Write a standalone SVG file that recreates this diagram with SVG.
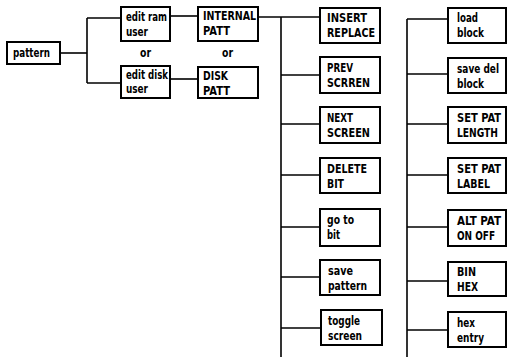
<svg xmlns="http://www.w3.org/2000/svg" width="508" height="357" viewBox="0 0 508 357">
<style>
.b{fill:#fff;stroke:#000;stroke-width:2}
.t{font-family:"DejaVu Sans Condensed","DejaVu Sans",sans-serif;font-stretch:condensed;font-weight:bold;font-size:13px;fill:#000}
.c line{stroke:#000;stroke-width:1.6}
</style>
<rect width="508" height="357" fill="#fff"/>
<g class="c" id="connectors">
<line x1="60" y1="53" x2="87" y2="53"/>
<line x1="87" y1="18" x2="87" y2="83"/>
<line x1="87" y1="18" x2="121" y2="18"/>
<line x1="87" y1="83" x2="121" y2="83"/>
<line x1="170" y1="16" x2="198" y2="16"/>
<line x1="170" y1="79" x2="198" y2="79"/>
<line x1="258" y1="17" x2="320" y2="17"/>
<line x1="281" y1="17" x2="281" y2="357"/>
<line x1="281" y1="75" x2="320" y2="75"/>
<line x1="281" y1="124" x2="320" y2="124"/>
<line x1="281" y1="175" x2="320" y2="175"/>
<line x1="281" y1="227" x2="320" y2="227"/>
<line x1="281" y1="277" x2="320" y2="277"/>
<line x1="281" y1="328" x2="321" y2="328"/>
<line x1="407" y1="19" x2="407" y2="357"/>
<line x1="407" y1="19" x2="448" y2="19"/>
<line x1="407" y1="74" x2="448" y2="74"/>
<line x1="407" y1="124" x2="448" y2="124"/>
<line x1="407" y1="175" x2="448" y2="175"/>
<line x1="407" y1="227" x2="448" y2="227"/>
<line x1="407" y1="281" x2="448" y2="281"/>
<line x1="407" y1="330" x2="448" y2="330"/>
</g>
<g id="pattern"><rect class="b" x="7" y="42" width="53" height="22"/><text class="t" x="13" y="57" textLength="37" lengthAdjust="spacingAndGlyphs">pattern</text></g>
<g id="edit-ram"><rect class="b" x="121" y="7" width="49" height="34"/><text class="t" x="126" y="21" textLength="41" lengthAdjust="spacingAndGlyphs">edit ram</text><text class="t" x="126" y="36" textLength="22" lengthAdjust="spacingAndGlyphs">user</text></g>
<g id="edit-disk"><rect class="b" x="121" y="66" width="49" height="32"/><text class="t" x="126" y="79" textLength="42" lengthAdjust="spacingAndGlyphs">edit disk</text><text class="t" x="126" y="93" textLength="22" lengthAdjust="spacingAndGlyphs">user</text></g>
<text class="t" x="140" y="57" textLength="11" lengthAdjust="spacingAndGlyphs">or</text>
<text class="t" x="222" y="57" textLength="11" lengthAdjust="spacingAndGlyphs">or</text>
<g id="internal"><rect class="b" x="198" y="7" width="60" height="34"/><text class="t" x="203" y="20" textLength="53" lengthAdjust="spacingAndGlyphs">INTERNAL</text><text class="t" x="203" y="35" textLength="27" lengthAdjust="spacingAndGlyphs">PATT</text></g>
<g id="disk"><rect class="b" x="198" y="67" width="60" height="31"/><text class="t" x="203" y="80" textLength="25" lengthAdjust="spacingAndGlyphs">DISK</text><text class="t" x="203" y="95" textLength="27" lengthAdjust="spacingAndGlyphs">PATT</text></g>
<g id="insert"><rect class="b" x="320" y="8" width="60" height="35"/><text class="t" x="327" y="22" textLength="40" lengthAdjust="spacingAndGlyphs">INSERT</text><text class="t" x="327" y="37" textLength="48" lengthAdjust="spacingAndGlyphs">REPLACE</text></g>
<g id="prev"><rect class="b" x="320" y="57" width="60" height="36"/><text class="t" x="327" y="72" textLength="26" lengthAdjust="spacingAndGlyphs">PREV</text><text class="t" x="327" y="87" textLength="43" lengthAdjust="spacingAndGlyphs">SCRREN</text></g>
<g id="next"><rect class="b" x="320" y="107" width="60" height="36"/><text class="t" x="327" y="122" textLength="26" lengthAdjust="spacingAndGlyphs">NEXT</text><text class="t" x="327" y="137" textLength="43" lengthAdjust="spacingAndGlyphs">SCREEN</text></g>
<g id="delete"><rect class="b" x="320" y="158" width="60" height="35"/><text class="t" x="327" y="173" textLength="40" lengthAdjust="spacingAndGlyphs">DELETE</text><text class="t" x="327" y="188" textLength="17" lengthAdjust="spacingAndGlyphs">BIT</text></g>
<g id="goto"><rect class="b" x="320" y="209" width="60" height="37"/><text class="t" x="327" y="224" textLength="27" lengthAdjust="spacingAndGlyphs">go to</text><text class="t" x="327" y="239" textLength="13" lengthAdjust="spacingAndGlyphs">bit</text></g>
<g id="save"><rect class="b" x="320" y="260" width="60" height="35"/><text class="t" x="328" y="275" textLength="25" lengthAdjust="spacingAndGlyphs">save</text><text class="t" x="328" y="290" textLength="39" lengthAdjust="spacingAndGlyphs">pattern</text></g>
<g id="toggle"><rect class="b" x="321" y="310" width="61" height="35"/><text class="t" x="328" y="325" textLength="32" lengthAdjust="spacingAndGlyphs">toggle</text><text class="t" x="328" y="340" textLength="34" lengthAdjust="spacingAndGlyphs">screen</text></g>
<g id="load"><rect class="b" x="448" y="8" width="58" height="35"/><text class="t" x="457" y="22" textLength="21" lengthAdjust="spacingAndGlyphs">load</text><text class="t" x="457" y="37" textLength="27" lengthAdjust="spacingAndGlyphs">block</text></g>
<g id="savedel"><rect class="b" x="448" y="58" width="58" height="35"/><text class="t" x="457" y="73" textLength="42" lengthAdjust="spacingAndGlyphs">save del</text><text class="t" x="457" y="88" textLength="27" lengthAdjust="spacingAndGlyphs">block</text></g>
<g id="length"><rect class="b" x="448" y="107" width="58" height="36"/><text class="t" x="457" y="122" textLength="44" lengthAdjust="spacingAndGlyphs">SET PAT</text><text class="t" x="457" y="137" textLength="41" lengthAdjust="spacingAndGlyphs">LENGTH</text></g>
<g id="label"><rect class="b" x="448" y="158" width="58" height="35"/><text class="t" x="457" y="173" textLength="44" lengthAdjust="spacingAndGlyphs">SET PAT</text><text class="t" x="457" y="188" textLength="33" lengthAdjust="spacingAndGlyphs">LABEL</text></g>
<g id="alt"><rect class="b" x="448" y="210" width="58" height="36"/><text class="t" x="457" y="225" textLength="44" lengthAdjust="spacingAndGlyphs">ALT PAT</text><text class="t" x="457" y="240" textLength="38" lengthAdjust="spacingAndGlyphs">ON OFF</text></g>
<g id="bin"><rect class="b" x="448" y="262" width="58" height="34"/><text class="t" x="457" y="276" textLength="19" lengthAdjust="spacingAndGlyphs">BIN</text><text class="t" x="457" y="291" textLength="21" lengthAdjust="spacingAndGlyphs">HEX</text></g>
<g id="hex"><rect class="b" x="448" y="312" width="58" height="35"/><text class="t" x="457" y="327" textLength="18" lengthAdjust="spacingAndGlyphs">hex</text><text class="t" x="457" y="342" textLength="27" lengthAdjust="spacingAndGlyphs">entry</text></g>
</svg>
